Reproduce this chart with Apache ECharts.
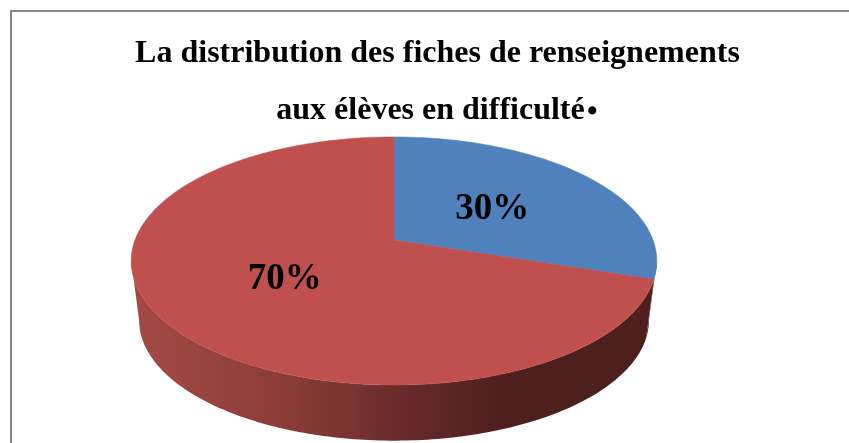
<!DOCTYPE html>
<html>
<head>
<meta charset="utf-8">
<style>html,body{margin:0;padding:0;background:#fff}#c{width:849px;height:443px}</style>
<script src="https://cdn.jsdelivr.net/npm/echarts@6/dist/echarts.min.js"></script>
</head>
<body>
<div id="c"></div>
<script>
const categories = ['Oui', 'Non'];
const values = [30, 70];
const labels = ['30%', '70%'];
const titleLines = ['La distribution des fiches de renseignements', 'aux élèves en difficulté'];
const titleEnd = '.';
const topColors = ['#4F81BD', '#C0504D'];

// Perspective view of the disc
const view = { cx: 394, cy: 240, a: 259, b: 120.5, k: 0.169, depth: 60, shrink: 0.97 };
const labelRadius = [0.515, 0.47];
const labelShift = 2.5;
const total = values.reduce((s, v) => s + v, 0);

function rim(deg, scale, dy) {
  const t = deg * Math.PI / 180, u = Math.sin(t), v = -Math.cos(t), w = 1 - view.k * v;
  return [view.cx + scale * view.a * u / w, view.cy + dy + scale * view.b * v / w];
}
function range(i) {
  let s = 0;
  for (let j = 0; j < i; j++) s += values[j];
  return [s / total * 360, (s + values[i]) / total * 360];
}
function arc(from, to, scale, dy) {
  const pts = [], n = Math.max(2, Math.ceil(Math.abs(to - from)));
  for (let i = 0; i <= n; i++) pts.push(rim(from + (to - from) * i / n, scale, dy));
  return pts;
}

const tilt = Math.asin(view.k) * 180 / Math.PI;
const frontStart = 90 + tilt;   // right silhouette of the disc
const frontEnd = 270 - tilt;    // left silhouette of the disc

function renderWall(params, api) {
  const i = params.dataIndex, r = range(i);
  const from = Math.max(r[0], frontStart), to = Math.min(r[1], frontEnd);
  if (to <= from) return null;
  const points = arc(from, to, view.shrink, view.depth).concat(arc(to, from, 1, 0));
  const fill = i === 0 ? '#3A3242' : new echarts.graphic.LinearGradient(0, 0, 1, 0, [
    { offset: 0, color: '#A54A46' },
    { offset: 0.3, color: '#8A3C38' },
    { offset: 0.55, color: '#64282A' },
    { offset: 0.72, color: '#4D1F1D' },
    { offset: 1, color: '#4D1F1D' }
  ]);
  return { type: 'polygon', shape: { points }, style: { fill, stroke: null } };
}

function renderTop(params, api) {
  const i = params.dataIndex, r = range(i);
  const points = [[view.cx, view.cy]].concat(arc(r[0], r[1], 1, 0));
  const mid = (r[0] + r[1]) / 2, t = mid * Math.PI / 180;
  const u = Math.sin(t), v = -Math.cos(t), w = 1 - view.k * v, lr = labelRadius[i];
  return {
    type: 'group',
    children: [
      { type: 'polygon', shape: { points }, style: { fill: topColors[i], stroke: topColors[i], lineWidth: 0.5 } },
      { type: 'text', z2: 10, style: {
          x: view.cx + lr * view.a * u / w, y: view.cy + labelShift + lr * view.b * v / w,
          text: labels[i], fill: '#000', align: 'center', verticalAlign: 'middle',
          font: 'bold 37px "Liberation Serif"' } }
    ]
  };
}

const titleStyle = { fontFamily: 'Liberation Serif', fontWeight: 'bold', fontSize: 32, color: '#000' };
const chart = echarts.init(document.getElementById('c'), null, { renderer: 'canvas' });
const seriesData = categories.map((name, i) => ({ name, value: values[i] }));
chart.setOption({
  animation: false,
  backgroundColor: '#fff',
  title: [
    { left: 437.5, top: 38, textAlign: 'center', padding: 0, text: titleLines[0], textStyle: titleStyle },
    { left: 430.5, top: 95, textAlign: 'center', padding: 0, text: titleLines[1], textStyle: titleStyle },
    { left: 586, top: 76, padding: 0, text: titleEnd, textStyle: Object.assign({}, titleStyle, { fontSize: 50 }) }
  ],
  graphic: [{
    type: 'polyline', silent: true,
    shape: { points: [[11, 443], [11, 11], [849, 11]] },
    style: { stroke: '#868686', lineWidth: 2, fill: null }
  }],
  series: [
    { type: 'custom', coordinateSystem: 'none', renderItem: renderWall, data: seriesData, z: 2, silent: true },
    { type: 'custom', coordinateSystem: 'none', renderItem: renderTop, data: seriesData, z: 3, silent: true }
  ]
});
</script>
</body>
</html>
